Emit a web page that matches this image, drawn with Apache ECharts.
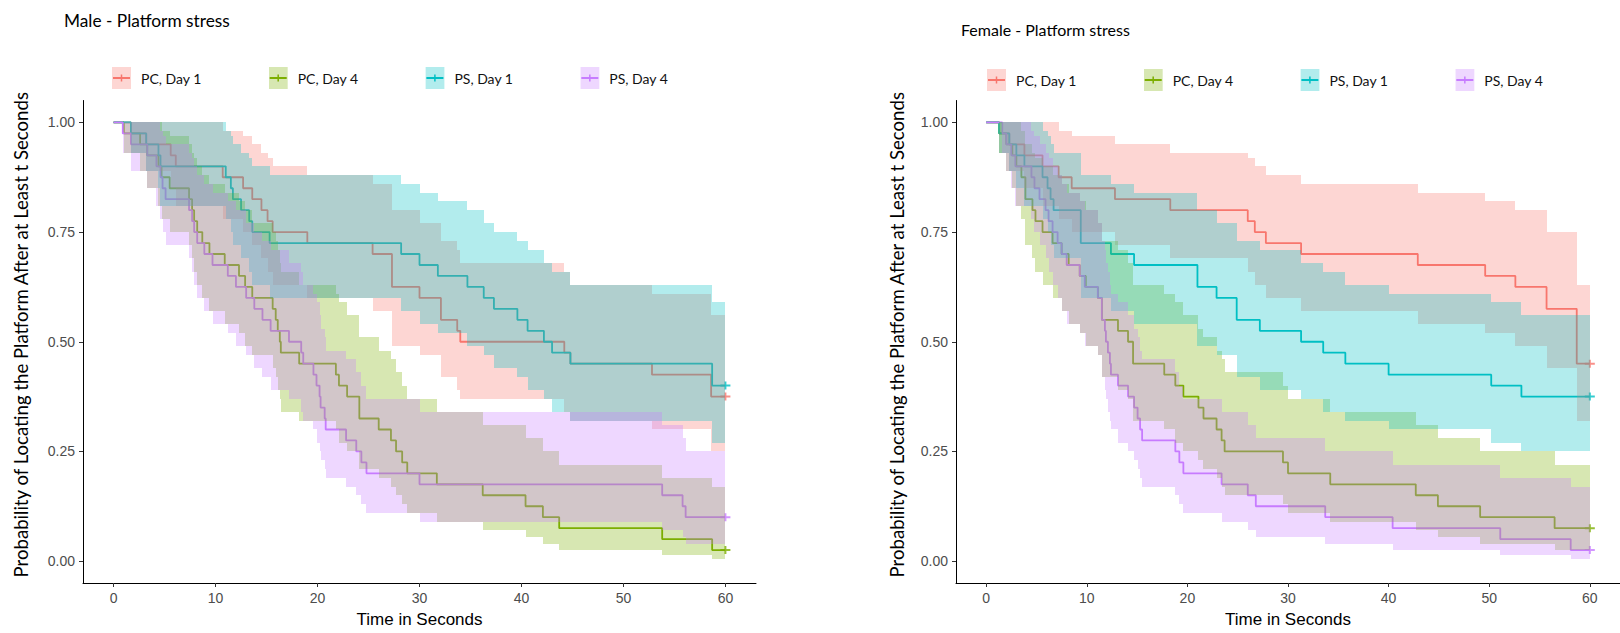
<!DOCTYPE html>
<html><head><meta charset="utf-8">
<script src="https://cdn.jsdelivr.net/npm/echarts@6/dist/echarts.min.js"></script>
<style>html,body{margin:0;padding:0;background:#fff}#c{width:1620px;height:633px}</style>
</head><body><div id="c"></div>
<script>
// ---------- labels ----------
const panelTitles = ['Male - Platform stress', 'Female - Platform stress'];
const groupNames = ['PC, Day 1', 'PC, Day 4', 'PS, Day 1', 'PS, Day 4'];
const xAxisTitle = 'Time in Seconds';
const yAxisTitle = 'Probability of Locating the Platform After at Least t Seconds';
const xTicks = [0, 10, 20, 30, 40, 50, 60];
const yTicks = [0, 0.25, 0.5, 0.75, 1];
const lineColors = ['#F8766D', '#7CAE00', '#00BFC4', '#C77CFF'];

// ---------- Male ----------
const malePC1Time  = [0,1.7,3.2,5.6,6.1,10.7,12.7,13.6,14.5,15.1,15.6,19.0,25.4,27.3,30.0,32.1,33.7,34.0,44.2,44.8,52.8,58.6,60];
const malePC1Surv  = [1,.975,.95,.925,.9,.875,.85,.825,.8,.775,.75,.725,.7,.625,.6,.55,.525,.5,.475,.45,.425,.375,.375];
const malePC1Lower = [1,.93,.89,.85,.81,.78,.75,.72,.69,.66,.63,.60,.57,.49,.47,.42,.39,.37,.34,.32,.30,.25,.25];
const malePC1Upper = [1,1,1,1,1,.98,.97,.95,.93,.92,.90,.88,.86,.80,.77,.73,.71,.68,.66,.63,.61,.56,.56];

const malePC4Time  = [0,1.0,2.6,3.3,4.4,4.7,5.5,7.4,7.7,7.9, 8.2,8.7,9.4,10.9,12.3,12.9,13.6,15.6,15.9,16.1, 16.3,16.4,18.2,21.8,22.1,22.9,24.1,26.0,27.2,27.7, 28.3,28.8,31.7,36.2,40.4,42.1,43.7,53.8,58.7,60];
const malePC4Surv  = [1,.975,.95,.925,.9,.875,.85,.825,.8,.775, .75,.725,.7,.675,.65,.625,.6,.575,.55,.525, .5,.475,.45,.425,.4,.375,.325,.3,.275,.25, .225,.2,.175,.15,.125,.1,.075,.05,.025,.025];
const malePC4Lower = [1,.93,.89,.85,.81,.78,.75,.72,.69,.66, .63,.60,.57,.54,.52,.49,.47,.44,.42,.39, .37,.34,.32,.30,.27,.25,.21,.19,.17,.15, .13,.11,.09,.07,.055,.04,.025,.013,.004,.004];
const malePC4Upper = [1,1,1,1,1,.98,.97,.95,.93,.92, .90,.88,.86,.84,.82,.80,.77,.75,.73,.71, .68,.66,.63,.61,.59,.56,.51,.48,.46,.43, .40,.37,.34,.31,.28,.25,.22,.19,.17,.17];

const malePS1Time  = [0,1.7,3.2,4.4,4.6,11.0,11.5,11.7,12.5,13.3,13.6,15.3,28.2,30.0,31.8,34.7,36.3,37.3,39.6,40.6,42.2,43.0,44.8,58.7,60];
const malePS1Surv  = [1,.975,.95,.925,.9,.875,.85,.825,.8,.775,.75,.725,.7,.675,.65,.625,.6,.575,.55,.525,.5,.475,.45,.4,.4];
const malePS1Lower = [1,.93,.89,.85,.81,.78,.75,.72,.69,.66,.63,.60,.57,.54,.52,.49,.47,.44,.42,.39,.37,.34,.32,.27,.27];
const malePS1Upper = [1,1,1,1,1,.98,.97,.95,.93,.92,.90,.88,.86,.84,.82,.80,.77,.75,.73,.71,.68,.66,.63,.59,.59];

const malePS4Time  = [0,0.9,1.7,3.3,4.2,4.6,4.8,5.1,7.4,7.7, 7.9,8.2,8.9,9.7,11.2,12.0,13.0,13.8,14.6,15.4, 17.2,18.4,18.6,19.6,19.9,20.2,20.3,20.7,20.8,22.8, 23.8,24.3,24.8,30.0,53.8,55.8,56.1,60];
const malePS4Surv  = [1,.975,.95,.925,.9,.875,.85,.825,.8,.775, .75,.725,.7,.675,.65,.625,.6,.575,.55,.525, .5,.475,.45,.425,.4,.375,.35,.325,.3,.275, .25,.225,.2,.175,.15,.125,.1,.1];
const malePS4Lower = [1,.93,.89,.85,.81,.78,.75,.72,.69,.66, .63,.60,.57,.54,.52,.49,.47,.44,.42,.39, .37,.34,.32,.30,.27,.25,.23,.21,.19,.17, .15,.13,.11,.09,.07,.055,.04,.04];
const malePS4Upper = [1,1,1,1,1,.98,.97,.95,.93,.92, .90,.88,.86,.84,.82,.80,.77,.75,.73,.71, .68,.66,.63,.61,.59,.56,.53,.51,.48,.46, .43,.40,.37,.34,.31,.28,.25,.25];

// ---------- Female ----------
const femalePC1Time  = [0,1.3,2.3,3.8,5.6,7.2,8.5,12.8,18.3,26.0,26.7,27.8,31.3,42.9,49.6,52.6,55.7,58.7,60];
const femalePC1Surv  = [1,.975,.95,.925,.9,.875,.85,.825,.8,.775,.75,.725,.7,.675,.65,.625,.575,.45,.45];
const femalePC1Lower = [1,.93,.89,.85,.81,.78,.75,.72,.69,.66,.63,.60,.57,.54,.52,.49,.44,.32,.32];
const femalePC1Upper = [1,1,1,1,1,.98,.97,.95,.93,.92,.90,.88,.86,.84,.82,.80,.75,.63,.63];

const femalePC4Time  = [0,1.3,2.0,2.6,3.0,3.5,3.9,4.6,4.9,5.6, 6.6,7.5,8.2,9.3,9.9,11.1,11.5,13.1,14.1,14.6, 17.7,18.8,19.6,21.1,21.6,22.9,23.4,23.7,29.5,30.0, 34.2,42.7,44.9,49.1,56.5,60];
const femalePC4Surv  = [1,.975,.95,.925,.9,.875,.825,.8,.775,.75, .725,.7,.675,.65,.625,.6,.55,.525,.5,.45, .425,.4,.375,.35,.325,.3,.275,.25,.225,.2, .175,.15,.125,.1,.075,.075];
const femalePC4Lower = [1,.93,.89,.85,.81,.78,.72,.69,.66,.63, .60,.57,.54,.52,.49,.47,.42,.39,.37,.32, .30,.27,.25,.23,.21,.19,.17,.15,.13,.11, .09,.07,.055,.04,.025,.025];
const femalePC4Upper = [1,1,1,1,1,.98,.95,.93,.92,.90, .88,.86,.84,.82,.80,.77,.73,.71,.68,.63, .61,.59,.56,.53,.51,.48,.46,.43,.40,.37, .34,.31,.28,.25,.22,.22];

const femalePS1Time  = [0,1.3,2.3,3.0,3.8,5.6,6.1,6.4,6.7,9.4,12.4,14.7,21.0,22.9,24.9,27.2,31.3,33.5,35.7,40.0,50.2,53.2,60];
const femalePS1Surv  = [1,.975,.95,.925,.9,.875,.85,.825,.8,.725,.7,.675,.625,.6,.55,.525,.5,.475,.45,.425,.4,.375,.375];
const femalePS1Lower = [1,.93,.89,.85,.81,.78,.75,.72,.69,.60,.57,.54,.49,.47,.42,.39,.37,.34,.32,.30,.27,.25,.25];
const femalePS1Upper = [1,1,1,1,1,.98,.97,.95,.93,.88,.86,.84,.80,.77,.73,.71,.68,.66,.63,.61,.59,.56,.56];

const femalePS4Time  = [0,1.6,2.0,2.5,2.9,4.5,4.8,5.3,5.9,6.2, 6.6,7.1,7.5,8.0,9.3,9.8,11.1,11.5,11.8,11.9, 12.1,12.3,12.4,13.1,14.1,14.7,15.05,15.3,15.5,18.8, 19.2,19.6,23.4,26.0,26.8,33.7,40.4,51.1,58.1,60];
const femalePS4Surv  = [1,.975,.95,.925,.9,.875,.85,.825,.8,.775, .75,.725,.7,.675,.65,.625,.6,.55,.525,.5, .475,.45,.425,.4,.375,.35,.325,.3,.275,.25, .225,.2,.175,.15,.125,.1,.075,.05,.025,.025];
const femalePS4Lower = [1,.93,.89,.85,.81,.78,.75,.72,.69,.66, .63,.60,.57,.54,.52,.49,.47,.42,.39,.37, .34,.32,.30,.27,.25,.23,.21,.19,.17,.15, .13,.11,.09,.07,.055,.04,.025,.013,.004,.004];
const femalePS4Upper = [1,1,1,1,1,.98,.97,.95,.93,.92, .90,.88,.86,.84,.82,.80,.77,.73,.71,.68, .66,.63,.61,.59,.56,.53,.51,.48,.46,.43, .40,.37,.34,.31,.28,.25,.22,.19,.17,.17];

// ---------- assemble ----------
const panels = [
  [[malePC1Time, malePC1Surv, malePC1Lower, malePC1Upper],
   [malePC4Time, malePC4Surv, malePC4Lower, malePC4Upper],
   [malePS1Time, malePS1Surv, malePS1Lower, malePS1Upper],
   [malePS4Time, malePS4Surv, malePS4Lower, malePS4Upper]],
  [[femalePC1Time, femalePC1Surv, femalePC1Lower, femalePC1Upper],
   [femalePC4Time, femalePC4Surv, femalePC4Lower, femalePC4Upper],
   [femalePS1Time, femalePS1Surv, femalePS1Lower, femalePS1Upper],
   [femalePS4Time, femalePS4Surv, femalePS4Lower, femalePS4Upper]]
];
panels.forEach((p, pi) => p.forEach((c, gi) => {
  c.forEach(a => { if (a.length !== c[0].length) throw new Error('length mismatch panel ' + pi + ' group ' + gi + ': ' + c.map(x => x.length).join(',')); });
}));

const HUMANIST = "Lato, 'Open Sans', sans-serif";
const SANS = "'Liberation Sans', Arial, sans-serif";

function hexToRgba(hex, a) {
  const n = parseInt(hex.slice(1), 16);
  return 'rgba(' + (n >> 16 & 255) + ',' + (n >> 8 & 255) + ',' + (n & 255) + ',' + a + ')';
}
function keyIcon(color) {
  const svg = '<svg xmlns="http://www.w3.org/2000/svg" width="24" height="22" viewBox="0 0 24 22">' +
    '<rect x="0" y="0" width="19" height="22" fill="' + color + '" fill-opacity="0.3"/>' +
    '<line x1="1" y1="11" x2="18" y2="11" stroke="' + color + '" stroke-width="2"/>' +
    '<line x1="9.5" y1="7.5" x2="9.5" y2="14.5" stroke="' + color + '" stroke-width="1.5"/></svg>';
  return 'image://data:image/svg+xml;charset=utf-8,' + encodeURIComponent(svg);
}
const plusPath = 'path://M0,4H10V6H0Z M4,1H6V9H4Z';

const series = [];
panels.forEach((curves, pi) => {
  // confidence ribbons (drawn above the lines, as in ggsurvplot)
  curves.forEach((c, gi) => {
    const [t, s, lo, hi] = c;
    const steps = [];
    for (let i = 0; i < t.length - 1; i++) steps.push([t[i], t[i + 1], lo[i], hi[i]]);
    const fill = hexToRgba(lineColors[gi], 0.3);
    series.push({
      type: 'custom', name: 'ci-' + pi + '-' + gi, xAxisIndex: pi, yAxisIndex: pi,
      data: steps, encode: { x: [0, 1], y: [2, 3] }, silent: true, z: 3, clip: true,
      renderItem: (params, api) => {
        const a = api.coord([api.value(0), api.value(3)]);
        const b = api.coord([api.value(1), api.value(2)]);
        const x = Math.round(a[0]), y = Math.round(a[1]);
        const w = Math.round(b[0]) - x, h = Math.round(b[1]) - y;
        if (w <= 0 || h <= 0) return null;
        return { type: 'rect', shape: { x: x, y: y, width: w, height: h }, style: { fill: fill } };
      }
    });
  });
  curves.forEach((c, gi) => {
    const [t, s] = c;
    series.push({
      type: 'line', name: groupNames[gi], xAxisIndex: pi, yAxisIndex: pi,
      data: t.map((x, i) => [x, s[i]]), step: 'end', symbol: 'none',
      lineStyle: { color: lineColors[gi], width: 1.8 }, itemStyle: { color: lineColors[gi] }, z: 2,
      emphasis: { disabled: true }
    });
    series.push({
      type: 'scatter', name: groupNames[gi], xAxisIndex: pi, yAxisIndex: pi,
      data: [[t[t.length - 1], s[s.length - 1]]], symbol: plusPath, symbolSize: [10, 8],
      itemStyle: { color: lineColors[gi] }, z: 2, emphasis: { disabled: true }
    });
  });
});

const grids = [
  { left: 83, top: 100.5, width: 673, height: 489 },
  { left: 956, top: 100.5, width: 672, height: 489 }
];
const yNameGaps = [53, 50];
const xAxes = grids.map((g, i) => ({
  gridIndex: i, type: 'value', min: -3, max: 63,
  axisLine: { onZero: false, lineStyle: { color: '#000', width: 1 } },
  axisTick: { customValues: xTicks, length: 4, lineStyle: { color: '#333' } },
  axisLabel: { customValues: xTicks, color: '#4D4D4D', fontSize: 14, fontFamily: SANS, margin: 8 },
  splitLine: { show: false },
  name: xAxisTitle, nameLocation: 'middle', nameGap: 28,
  nameTextStyle: { color: '#000', fontSize: 17, fontFamily: SANS }
}));
const yAxes = grids.map((g, i) => ({
  gridIndex: i, type: 'value', min: -0.05, max: 1.05,
  axisLine: { onZero: false, lineStyle: { color: '#000', width: 1 } },
  axisTick: { customValues: yTicks, length: 4, lineStyle: { color: '#333' } },
  axisLabel: { customValues: yTicks, color: '#4D4D4D', fontSize: 14, fontFamily: SANS, margin: 8,
    formatter: v => v.toFixed(2) },
  splitLine: { show: false },
  name: yAxisTitle, nameLocation: 'middle', nameGap: yNameGaps[i],
  nameTextStyle: { color: '#000', fontSize: 18.6, fontFamily: HUMANIST, padding: [0, 0, 0, 14] }
}));

const legendData = groupNames.map((n, i) => ({ name: n, icon: keyIcon(lineColors[i]) }));
const legends = [
  { left: 112, top: 67 },
  { left: 987, top: 69 }
].map(p => ({
  left: p.left, top: p.top, orient: 'horizontal', padding: 0,
  itemWidth: 24, itemHeight: 22, itemGap: 67, data: legendData,
  textStyle: { fontFamily: HUMANIST, fontSize: 14, color: '#111' },
  selectedMode: false
}));

const chart = echarts.init(document.getElementById('c'), null, { renderer: 'svg' });
chart.setOption({
  animation: false,
  backgroundColor: '#fff',
  title: [
    { text: panelTitles[0], left: 64, top: 12, padding: 0,
      textStyle: { fontFamily: HUMANIST, fontSize: 17.3, fontWeight: 'normal', color: '#000' } },
    { text: panelTitles[1], left: 961, top: 21, padding: 0,
      textStyle: { fontFamily: HUMANIST, fontSize: 16, fontWeight: 'normal', color: '#000' } }
  ],
  legend: legends,
  grid: grids,
  xAxis: xAxes,
  yAxis: yAxes,
  series: series
});
</script>
</body></html>
